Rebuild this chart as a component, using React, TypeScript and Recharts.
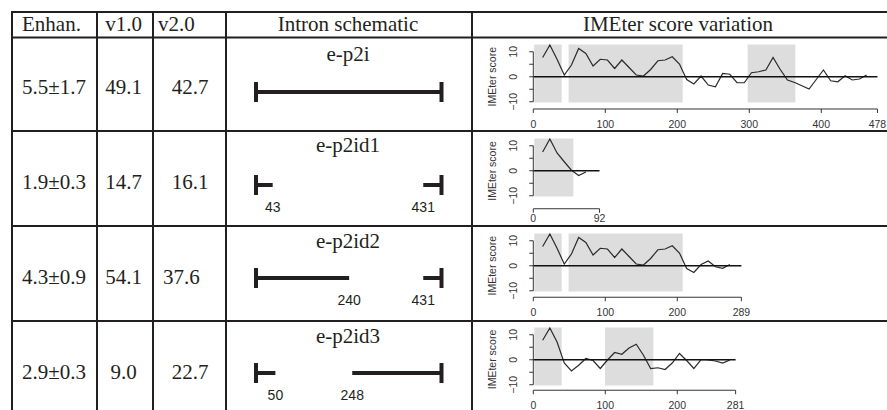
import React from "react";
import {
  ComposedChart,
  Line,
  ReferenceArea,
  ReferenceLine,
  Scatter,
  XAxis,
  YAxis,
} from "recharts";

// table columns
const enhancement = ["5.5±1.7", "1.9±0.3", "4.3±0.9", "2.9±0.3"];
const v1Score = ["49.1", "14.7", "54.1", "9.0"];
const v2Score = ["42.7", "16.1", "37.6", "22.7"];
const constructs = ["e-p2i", "e-p2id1", "e-p2id2", "e-p2id3"];
const intronLength = [478, 92, 289, 281];

// intron schematic: kept pieces of the 478 nt intron and the break coordinates
const FULL_INTRON = 478;
const keptSegments = [
  [[0, 478]],
  [[0, 43], [431, 478]],
  [[0, 240], [431, 478]],
  [[0, 50], [248, 478]],
];
const breakLabels = [[], [43, 431], [240, 431], [50, 248]];

// IMEter profiles
const xTicks = [
  [0, 100, 200, 300, 400, 478],
  [0, 92],
  [0, 100, 200, 289],
  [0, 100, 200, 281],
];
const yTicks = [-10, -5, 0, 5, 10];

const pos1 = [13, 23, 33, 43, 53, 63, 73, 83, 93, 103, 113, 123, 133, 143, 153, 163, 173, 183, 193, 203, 213, 223, 233, 243, 253, 263, 273, 283, 293, 303, 313, 323, 333, 343, 353, 363, 373, 383, 393, 403, 413, 423, 433, 443, 453, 463];
const score1 = [7.7, 12.7, 7.0, 0.7, 4.7, 11.3, 9.3, 4.3, 7.0, 6.7, 3.3, 6.7, 3.7, 0.7, 0.3, 2.9, 6.4, 6.7, 8.0, 5.1, -1.1, -2.9, 0.3, -3.3, -4.0, 1.3, 1.0, -2.4, -2.4, 1.6, 2.0, 2.7, 7.7, 2.9, -1.3, -2.3, -3.6, -4.9, -1.1, 2.7, -1.6, -2.0, 0.4, -1.3, -0.9, 0.7];

const pos2 = [13, 23, 33, 43, 53, 63, 73];
const score2 = [7.5, 12.7, 7.1, 3.6, 0.2, -1.9, -0.5];

const pos3 = [13, 23, 33, 43, 53, 63, 73, 83, 93, 103, 113, 123, 133, 143, 153, 163, 173, 183, 193, 203, 213, 223, 233, 243, 253, 263, 273];
const score3 = [7.7, 12.7, 7.0, 0.7, 4.7, 11.3, 9.3, 4.3, 7.0, 6.7, 3.3, 6.7, 3.7, 0.7, 0.3, 2.9, 6.4, 6.7, 8.0, 5.1, -1.1, -2.7, 0.5, 1.9, -0.4, -1.0, 0.5];

const pos4 = [13, 23, 33, 43, 53, 63, 73, 83, 93, 103, 113, 123, 133, 143, 153, 163, 173, 183, 193, 203, 213, 223, 233, 243, 253, 263, 273];
const score4 = [7.8, 12.7, 7.1, -1.3, -4.5, -2.2, 0.5, -0.3, -3.5, -0.1, 2.9, 2.2, 4.7, 6.2, 1.8, -3.5, -3.2, -3.9, -1.3, 2.5, -0.3, -3.5, 0.1, -0.1, -0.5, -1.3, -0.1];

const positions = [pos1, pos2, pos3, pos4];
const scores = [score1, score2, score3, score4];

// grey boxes = regions with positive IMEter signal
const shaded = [
  [[1.4, 39.4], [49, 207.5], [297.7, 364]],
  [[1.4, 55.6]],
  [[1.4, 39.4], [49, 207.5]],
  [[1.4, 39.4], [99.6, 166.7]],
];
const SHADE_LOW = -10.3;
const SHADE_HIGH = 12.9;

// ---- layout ----
const ink = "#231f20";
const serif = "'Liberation Serif', 'Times New Roman', serif";
const sans = "'Liberation Sans', Arial, Helvetica, sans-serif";

const hLines = [12, 37.5, 131, 226, 321];
const vLines = [12, 97, 153, 226, 472];
const rowBase = [94, 188.5, 283.5, 378.5];
const nameBase = [61, 152, 248, 343];
const barY = [92, 185, 278, 373];
const zeroY = [76.7, 171, 265.7, 359.5];
const axisFloor = [-12.9, -15.2, -12.6, -12.2];
const labelDrop = [47.8, 47.3, 47, 45.5];

const PX_NT = 0.72;
const PX_SCORE = 2.5;
const CHART_LEFT = 470;
const PLOT_LEFT = 533.3;
const SCORE_TOP = 13.5;

function YTick(props: any) {
  const { x, y, payload } = props;
  const v = payload.value;
  if (v !== 0 && Math.abs(v) !== 10) return <g />;
  const tx = x - 14;
  const label = v < 0 ? "\u2212" + Math.abs(v) : String(v);
  return (
    <text
      x={tx}
      y={y}
      transform={`rotate(-90 ${tx} ${y})`}
      textAnchor="middle"
      dominantBaseline="central"
      fontSize={10.5}
      fontFamily={sans}
      fill="#333"
    >
      {label}
    </text>
  );
}

function ScoreChart({ row }: { row: number }) {
  const len = intronLength[row];
  const floor = axisFloor[row];
  const data = positions[row].map((x, i) => ({ x, y: scores[row][i] }));
  const yAxisW = PLOT_LEFT - CHART_LEFT;
  const plotW = len * PX_NT;
  const plotH = (SCORE_TOP - floor) * PX_SCORE;
  const mTop = 2;
  const xAxisH = 30;
  const top = zeroY[row] - SCORE_TOP * PX_SCORE - mTop;
  const tickMargin = labelDrop[row] - 3.76 + floor * PX_SCORE - 4;

  return (
    <div style={{ position: "absolute", left: CHART_LEFT, top }}>
      <ComposedChart
        width={yAxisW + plotW + 14}
        height={mTop + plotH + xAxisH}
        data={data}
        margin={{ top: mTop, right: 14, bottom: 0, left: 0 }}
      >
        <XAxis
          type="number"
          dataKey="x"
          domain={[0, len]}
          ticks={xTicks[row]}
          interval={0}
          allowDataOverflow
          height={xAxisH}
          tickSize={4}
          tickMargin={tickMargin}
          stroke="#333"
          tick={{ fontSize: 10.5, fill: "#333", fontFamily: sans }}
        />
        <YAxis
          type="number"
          dataKey="y"
          domain={[floor, SCORE_TOP]}
          ticks={yTicks}
          interval={0}
          allowDataOverflow
          width={yAxisW}
          axisLine={false}
          tickSize={4}
          stroke="#333"
          tick={(p: any) => <YTick {...p} />}
        />
        {shaded[row].map(([a, b], i) => (
          <ReferenceArea
            key={i}
            x1={a}
            x2={b}
            y1={SHADE_LOW}
            y2={SHADE_HIGH}
            fill="#dddddd"
            fillOpacity={1}
            stroke="none"
            zIndex={50}
          />
        ))}
        <ReferenceLine segment={[{ x: 0, y: -10 }, { x: 0, y: 10 }]} stroke="#333" zIndex={500} />
        <Line
          type="linear"
          dataKey="y"
          stroke="#2a2a2a"
          strokeWidth={1.2}
          dot={false}
          isAnimationActive={false}
          zIndex={400}
        />
        <ReferenceLine y={0} stroke="#111" strokeWidth={1.6} zIndex={450} />
      </ComposedChart>
    </div>
  );
}

function LabelMark(props: any) {
  const { cx, cy, payload } = props;
  return (
    <text x={cx} y={cy + 27} textAnchor="middle" fontSize={14} fontFamily={sans} fill={ink}>
      {payload.t}
    </text>
  );
}

function Schematic({ row }: { row: number }) {
  const labels = breakLabels[row].map((x) => ({ x, y: 0, t: String(x) }));
  return (
    <div style={{ position: "absolute", left: 236, top: barY[row] - 35 }}>
      <ComposedChart width={225.5} height={70} margin={{ top: 0, right: 20, bottom: 0, left: 20 }}>
        <XAxis type="number" dataKey="x" domain={[0, FULL_INTRON]} hide allowDataOverflow />
        <YAxis type="number" dataKey="y" domain={[-3.5, 3.5]} hide allowDataOverflow />
        {keptSegments[row].map(([a, b], i) => (
          <ReferenceLine key={"s" + i} segment={[{ x: a, y: 0 }, { x: b, y: 0 }]} stroke={ink} strokeWidth={4} />
        ))}
        <ReferenceLine segment={[{ x: 0, y: -1 }, { x: 0, y: 1 }]} stroke={ink} strokeWidth={4} />
        <ReferenceLine segment={[{ x: FULL_INTRON, y: -1 }, { x: FULL_INTRON, y: 1 }]} stroke={ink} strokeWidth={4} />
        <Scatter data={labels} dataKey="y" shape={(p: any) => <LabelMark {...p} />} isAnimationActive={false} />
      </ComposedChart>
    </div>
  );
}

export default function App() {
  const rows = [0, 1, 2, 3];
  return (
    <div
      style={{
        position: "absolute",
        left: 0,
        top: 0,
        width: 887,
        height: 410,
        overflow: "hidden",
        background: "#fff",
      }}
    >
      <svg width={887} height={410} style={{ position: "absolute", left: 0, top: 0 }}>
        {hLines.map((y) => (
          <line key={"h" + y} x1={11} x2={887} y1={y} y2={y} stroke={ink} strokeWidth={2} />
        ))}
        {vLines.map((x) => (
          <line key={"v" + x} x1={x} x2={x} y1={11} y2={410} stroke={ink} strokeWidth={2} />
        ))}
        <g fontFamily={serif} fontSize={21} fill={ink}>
          <text x={22} y={31}>Enhan.</text>
          <text x={123.5} y={31} textAnchor="middle">v1.0</text>
          <text x={158} y={31}>v2.0</text>
          <text x={348} y={31} textAnchor="middle">Intron schematic</text>
          <text x={678} y={31} textAnchor="middle">IMEter score variation</text>
          {rows.map((r) => (
            <g key={r}>
              <text x={22} y={rowBase[r]}>{enhancement[r]}</text>
              <text x={123.5} y={rowBase[r]} textAnchor="middle">{v1Score[r]}</text>
              {r === 2 ? (
                <text x={163} y={rowBase[r]}>{v2Score[r]}</text>
              ) : (
                <text x={190} y={rowBase[r]} textAnchor="middle">{v2Score[r]}</text>
              )}
              <text x={348} y={nameBase[r]} textAnchor="middle">{constructs[r]}</text>
            </g>
          ))}
        </g>
        {rows.map((r) => (
          <text
            key={"yl" + r}
            x={492}
            y={zeroY[r]}
            transform={`rotate(-90 492 ${zeroY[r]})`}
            textAnchor="middle"
            dominantBaseline="central"
            fontFamily={sans}
            fontSize={10.5}
            fill="#333"
          >
            IMEter score
          </text>
        ))}
      </svg>
      {rows.map((r) => (
        <Schematic key={"sc" + r} row={r} />
      ))}
      {rows.map((r) => (
        <ScoreChart key={"ch" + r} row={r} />
      ))}
    </div>
  );
}
